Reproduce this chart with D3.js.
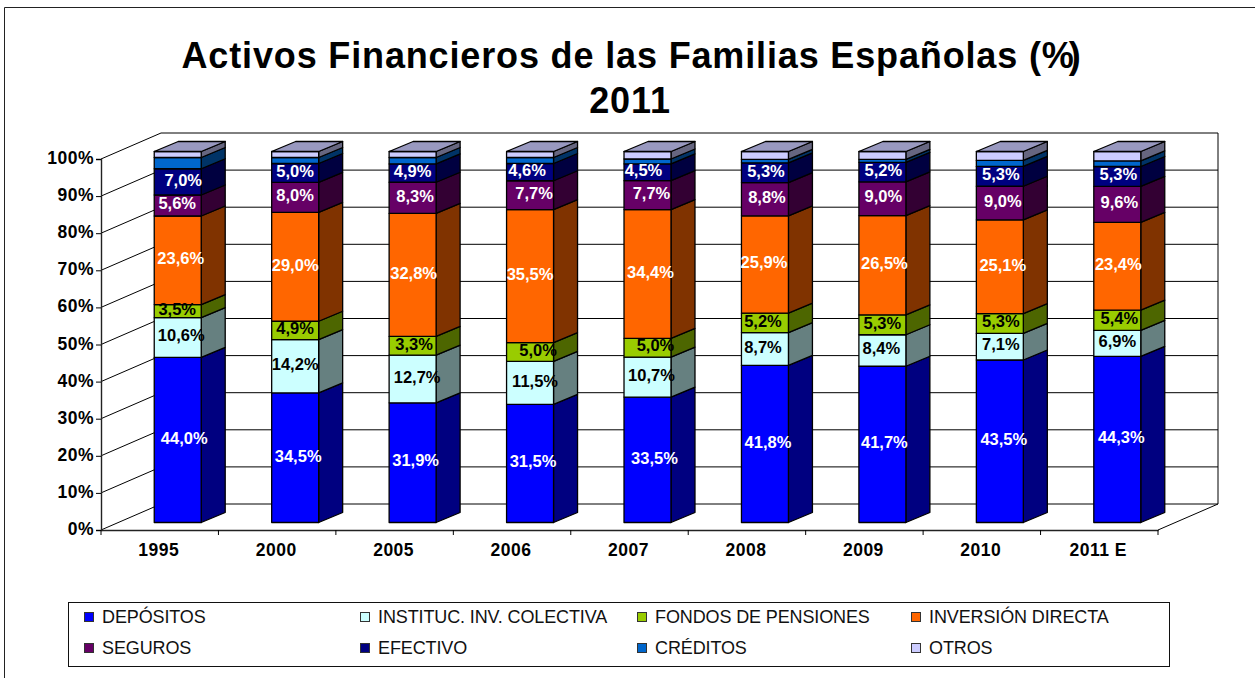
<!DOCTYPE html>
<html>
<head>
<meta charset="utf-8">
<script src="https://d3js.org/d3.v7.min.js"></script>
<style>
  html, body { margin: 0; padding: 0; background: #fff; }
  svg { display: block; }
  text { font-family: "Liberation Sans", Arial, sans-serif; }
</style>
</head>
<body>
<script>
// data
var years = ["1995", "2000", "2005", "2006", "2007", "2008", "2009", "2010", "2011 E"];
var seriesNames = ["DEPÓSITOS", "INSTITUC. INV. COLECTIVA", "FONDOS DE PENSIONES", "INVERSIÓN DIRECTA",
                   "SEGUROS", "EFECTIVO", "CRÉDITOS", "OTROS"];
var depositos = [44.0, 34.5, 31.9, 31.5, 33.5, 41.8, 41.7, 43.5, 44.3];
var instituc  = [10.6, 14.2, 12.7, 11.5, 10.7, 8.7, 8.4, 7.1, 6.9];
var fondos    = [3.5, 4.9, 5.0, 5.0, 5.0, 5.2, 5.3, 5.3, 5.4];
var inversion = [23.6, 29.0, 32.8, 35.5, 34.4, 25.9, 26.5, 25.1, 23.4];
var seguros   = [5.6, 8.0, 8.3, 7.7, 7.7, 8.8, 9.0, 9.0, 9.6];
var efectivo  = [7.0, 5.0, 4.9, 4.6, 4.5, 5.3, 5.2, 5.3, 5.3];
var creditos  = [3.0, 1.6, 1.7, 1.6, 1.3, 0.9, 0.8, 1.6, 1.5];
var otros     = [1.6, 1.6, 1.6, 1.6, 2.0, 2.1, 2.1, 2.4, 2.5];
// the 2005 pension bar is drawn about 5% tall but its label says 3,3%
var fondosPrinted = [3.5, 4.9, 3.3, 5.0, 5.0, 5.2, 5.3, 5.3, 5.4];
var yTicks = [0, 0.1, 0.2, 0.3, 0.4, 0.5, 0.6, 0.7, 0.8, 0.9, 1];

var allSeries = [depositos, instituc, fondos, inversion, seguros, efectivo, creditos, otros];
var printed = [depositos, instituc, fondosPrinted, inversion, seguros, efectivo];
var frontColors = ["#0000ff", "#ccffff", "#99cc00", "#ff6600", "#660066", "#000080", "#0066cc", "#ccccff"];
var sideColors  = ["#000080", "#668080", "#4d6600", "#803300", "#330033", "#000040", "#003366", "#666680"];
var labelColors = ["#fff", "#000", "#000", "#fff", "#fff", "#fff"];
var topColor = "#9999c0";

// labels were moved by hand in the original, sideways shift per series and year
var labelShift = [
  [6.5, 3, 3, 3, 7, 3, 2, 4, 4],
  [3.5, 0, 4.5, 5, 4, -2, -1, 1, 0],
  [-0.5, 0, 1.5, 8, 8, -2, 0, 1, 2],
  [3, 0, 1, 0, 3, -1, 2, 3, 1],
  [-0.5, 0, 2.5, 4, 4, 2, 1, 3, 2],
  [5.5, 0, 0, -3, -4, 1, 1, 1, 1]
];

// front plane of the 3d box, and how far back the walls and bars go
var left = 101, right = 1158, floorY = 530, topY = 159;
var wallDx = 60, wallDy = -26;
var barDx = 18, barDy = -7.5, sideDx = 24, sideDy = -10;

var svg = d3.select("body").append("svg")
    .attr("width", 1255)
    .attr("height", 678);

var x = d3.scaleBand().domain(years).range([left, right]).paddingInner(0.6).paddingOuter(0.3);
var y = d3.scaleLinear().domain([0, 1]).range([floorY, topY]);

// outer frame, only left and top show in the crop
svg.append("path")
    .attr("d", "M4.5,678V7.5H1255")
    .style("fill", "none")
    .style("stroke", "#222");

// title
var title = svg.append("text").attr("x", 631.5).attr("y", 68).attr("text-anchor", "middle")
    .style("font-size", "36px").style("font-weight", "bold").style("letter-spacing", "0.85px");
title.append("tspan").text("Activos Financieros de las Familias Españolas (%");
title.append("tspan").attr("dx", -6).text(")");
svg.append("text").attr("x", 630).attr("y", 113).attr("text-anchor", "middle")
    .style("font-size", "36px").style("font-weight", "bold").style("letter-spacing", "0.85px")
    .text("2011");

// walls and gridlines
var walls = svg.append("g").style("fill", "none").style("stroke", "#000");
yTicks.forEach(function(t) {
  walls.append("path")
      .attr("d", d3.line()([[left, y(t)], [left + wallDx, y(t) + wallDy], [right + wallDx, y(t) + wallDy]]));
});
walls.append("path")
    .attr("d", d3.line()([[right, floorY], [right + wallDx, floorY + wallDy], [right + wallDx, topY + wallDy]]));

// y axis
var yAxis = svg.append("g")
    .attr("transform", "translate(" + left + ",0)")
    .call(d3.axisLeft(y).tickValues(yTicks).tickFormat(d3.format(".0%")).tickSize(5).tickPadding(2));
yAxis.selectAll("text").attr("dy", "0.26em");

// x axis, ticks sit between the categories
var xAxis = svg.append("g")
    .attr("transform", "translate(0," + floorY + ")")
    .call(d3.axisBottom(x).tickSize(0).tickPadding(14));
xAxis.selectAll("text").attr("dx", -1);
var edges = years.map(function(d) { return x(d) - x.step() * x.paddingOuter(); }).concat([right]);
xAxis.selectAll(".edge").data(edges).enter().append("line")
    .attr("class", "edge")
    .attr("x1", function(d) { return d; })
    .attr("x2", function(d) { return d; })
    .attr("y2", 5)
    .style("stroke", "#000");

[yAxis, xAxis].forEach(function(a) {
  a.selectAll("path.domain").style("stroke", "#222").style("stroke-width", 1.4);
  a.selectAll("text")
      .style("font-family", "\"Liberation Sans\", Arial, sans-serif")
      .style("font-size", "17.5px")
      .style("font-weight", "bold")
      .style("letter-spacing", "0.5px")
      .style("fill", "#000");
});

// stack, 100% like the original
var rows = years.map(function(yr, i) {
  var row = { year: yr };
  allSeries.forEach(function(s, k) { row[k] = s[i]; });
  return row;
});
var stack = d3.stack()
    .keys(d3.range(allSeries.length))
    .offset(d3.stackOffsetExpand);
var stacked = stack(rows);

var bars = svg.append("g")
    .attr("transform", "translate(" + barDx + "," + barDy + ")")
    .style("stroke", "#000")
    .style("stroke-width", 1.3)
    .style("stroke-linejoin", "round");

stacked.forEach(function(layer, k) {
  layer.forEach(function(d) {
    var x0 = x(d.data.year), x1 = x0 + x.bandwidth();
    var y0 = y(d[0]), y1 = y(d[1]);
    bars.append("path")
        .attr("d", d3.line()([[x1, y0], [x1 + sideDx, y0 + sideDy], [x1 + sideDx, y1 + sideDy], [x1, y1]]) + "Z")
        .style("fill", sideColors[k]);
    bars.append("rect")
        .attr("x", x0)
        .attr("y", y1)
        .attr("width", x.bandwidth())
        .attr("height", y0 - y1)
        .style("fill", frontColors[k]);
    if (k == allSeries.length - 1) {
      bars.append("path")
          .attr("d", d3.line()([[x0, y1], [x0 + sideDx, y1 + sideDy], [x1 + sideDx, y1 + sideDy], [x1, y1]]) + "Z")
          .style("fill", topColor);
    }
  });
});

// data labels, only the first six series have them
var labels = svg.append("g")
    .attr("transform", "translate(" + barDx + "," + barDy + ")");
stacked.slice(0, 6).forEach(function(layer, k) {
  layer.forEach(function(d, i) {
    labels.append("text")
        .attr("x", x(d.data.year) + x.bandwidth() / 2 + labelShift[k][i])
        .attr("y", (y(d[0]) + y(d[1])) / 2 - 2)
        .attr("dy", "0.35em")
        .attr("text-anchor", "middle")
        .style("font-size", "16.5px")
        .style("font-weight", "bold")
        .style("fill", labelColors[k])
        .text(printed[k][i].toFixed(1).replace(".", ",") + "%");
  });
});

// legend
var legend = svg.append("g");
legend.append("rect")
    .attr("x", 68.5).attr("y", 602.5).attr("width", 1101).attr("height", 64)
    .style("fill", "#fff").style("stroke", "#111");
var legendCols = d3.scaleOrdinal().domain([0, 1, 2, 3]).range([84, 360, 637, 911]);
var legendRows = d3.scaleOrdinal().domain([0, 1]).range([617, 648]);
seriesNames.forEach(function(name, k) {
  var lx = legendCols(k % 4), ly = legendRows(Math.floor(k / 4));
  legend.append("rect")
      .attr("x", lx + 0.5).attr("y", ly - 4.5).attr("width", 9).attr("height", 9)
      .style("fill", frontColors[k]).style("stroke", "#333");
  legend.append("text")
      .attr("x", lx + 18).attr("y", ly).attr("dy", "0.36em")
      .style("font-size", "18px")
      .style("letter-spacing", "-0.12px")
      .style("fill", "#111")
      .text(name);
});
</script>
</body>
</html>
